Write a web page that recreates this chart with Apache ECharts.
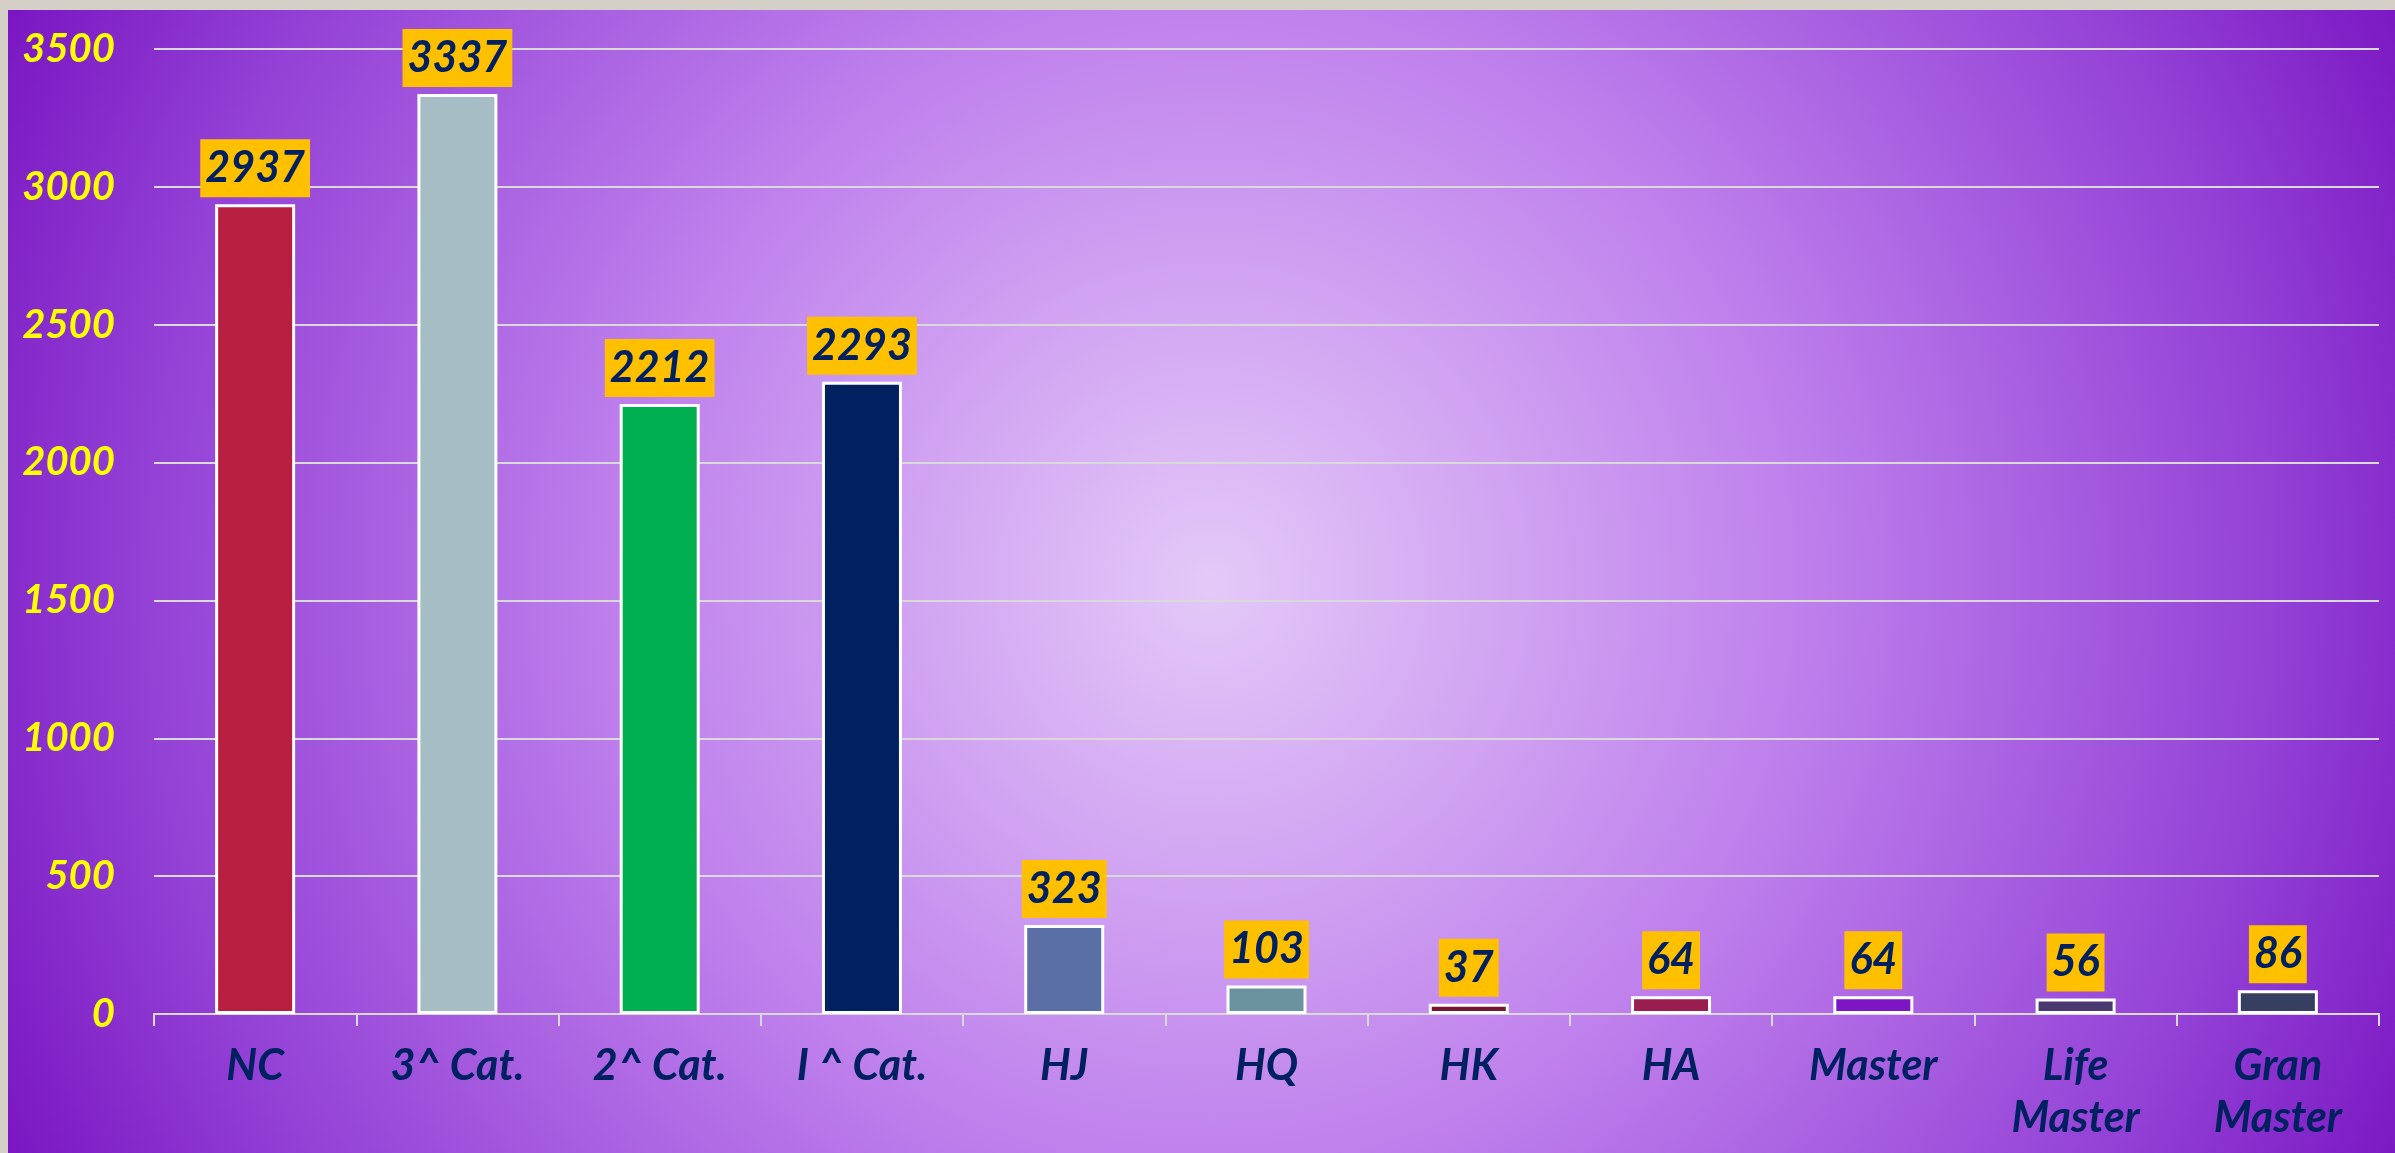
<!DOCTYPE html>
<html>
<head>
<meta charset="utf-8">
<script src="https://cdn.jsdelivr.net/npm/echarts@6/dist/echarts.min.js"></script>
<style>
  html, body { margin: 0; padding: 0; width: 2395px; height: 1153px; background: #D4D0C8; overflow: hidden; }
  #chart { position: absolute; left: 8px; top: 10px; width: 2387px; height: 1143px; }
</style>
</head>
<body>
<div id="chart"></div>
<script>
const categories = ['NC', '3^ Cat.', '2^ Cat.', 'I ^ Cat.', 'HJ', 'HQ', 'HK', 'HA', 'Master', 'Life\nMaster', 'Gran\nMaster'];
const values = [2937, 3337, 2212, 2293, 323, 103, 37, 64, 64, 56, 86];
const barColors = ['#B81E40', '#A6BDC5', '#00AF50', '#002060', '#5A6FA6', '#6A929F', '#75172F', '#991D4F', '#7C15C3', '#4A3870', '#363F5F'];
const yTicks = { min: 0, max: 3500, interval: 500 };

const chart = echarts.init(document.getElementById('chart'));
const font = 'Lato';
chart.setOption({
  backgroundColor: {
    type: 'radial', x: 1202, y: 573, r: 1331, global: true,
    colorStops: [
      { offset: 0, color: '#E4C9F8' },
      { offset: 0.45, color: '#BE7FEC' },
      { offset: 0.8, color: '#9341D6' },
      { offset: 1, color: '#7A16C2' }
    ]
  },
  animation: false,
  grid: { left: 146, right: 16, top: 39, bottom: 139, containLabel: false },
  xAxis: {
    type: 'category',
    data: categories,
    axisLine: { lineStyle: { color: '#D9D9D9', width: 2 } },
    axisTick: { show: true, length: 12, lineStyle: { color: '#D9D9D9', width: 2 } },
    axisLabel: {
      color: '#002060', fontFamily: font, fontSize: 43, fontWeight: 'bold', fontStyle: 'italic',
      lineHeight: 52, margin: 26, interval: 0
    }
  },
  yAxis: {
    type: 'value',
    min: yTicks.min, max: yTicks.max, interval: yTicks.interval,
    axisLine: { show: false },
    axisTick: { show: false },
    splitLine: { lineStyle: { color: '#D9D9D9', width: 2 } },
    axisLabel: {
      formatter: v => String(v),
      color: '#FFFF00', fontFamily: font, fontSize: 40, fontWeight: 'bold', fontStyle: 'italic', margin: 39
    }
  },
  series: [{
    type: 'bar',
    data: values.map((v, i) => ({ value: v, itemStyle: { color: barColors[i] } })),
    barWidth: 80,
    itemStyle: { borderColor: '#FFFFFF', borderWidth: 3 },
    label: {
      show: true, position: 'top', distance: 7,
      backgroundColor: '#FFC000', color: '#002060',
      fontFamily: font, fontSize: 43, fontWeight: 'bold', fontStyle: 'italic',
      lineHeight: 44, padding: [7, 5, 7, 5]
    }
  }]
});
</script>
</body>
</html>
